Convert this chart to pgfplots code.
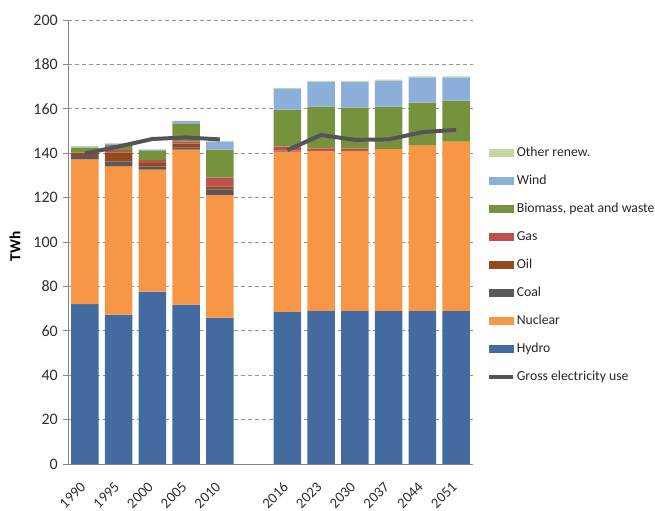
\documentclass[border=0pt]{standalone}
\usepackage{fontspec}
\setmainfont{Carlito}
\usepackage{pgfplots}
\usepackage{pgfplotstable}
\pgfplotsset{compat=1.18}

\definecolor{hydro}{RGB}{68,107,159}
\definecolor{nuclear}{RGB}{247,150,70}
\definecolor{coal}{RGB}{89,89,89}
\definecolor{oil}{RGB}{148,73,33}
\definecolor{gas}{RGB}{192,80,77}
\definecolor{biomass}{RGB}{118,146,60}
\definecolor{wind}{RGB}{140,175,218}
\definecolor{otherren}{RGB}{195,214,155}
\definecolor{useline}{RGB}{84,84,86}
\definecolor{axisgray}{RGB}{134,134,134}
\definecolor{gridgray}{RGB}{150,150,150}

% Electricity supply by source (TWh); x = slot on the category axis
\pgfplotstableread{
x  hydro nuclear coal oil gas biomass wind other
0  72.0  65.2    1.5  1.3 0.4 2.1     0.4  0.3
1  67.3  66.9    2.1  4.1 1.0 2.3     0.6  0.2
2  77.6  55.0    1.4  1.6 1.3 4.2     0.5  0.2
3  71.8  69.8    0.9  1.8 1.0 7.9     1.2  0.2
4  65.9  55.3    2.5  1.3 4.0 12.6    3.6  0.4
6  68.5  72.2    0.0  0.5 1.8 16.6    9.3  0.5
7  69.0  72.1    0.0  0.0 1.1 18.8    11.2 0.4
8  69.0  72.1    0.0  0.0 1.0 18.4    11.7 0.4
9  69.0  72.9    0.0  0.0 0.0 19.1    11.7 0.4
10 69.0  74.8    0.0  0.0 0.0 19.0    11.4 0.4
11 69.0  76.2    0.0  0.0 0.0 18.5    10.5 0.4
}\supply

% Gross electricity use (TWh)
\pgfplotstableread{
x  use
0  139.9
1  143.0
2  146.4
3  147.1
4  146.2
5  nan
6  141.4
7  148.2
8  146.0
9  146.2
10 149.5
11 150.5
}\usage

\begin{document}
\begin{tikzpicture}
\path[use as bounding box] (-51pt,-34.5pt) rectangle (440.25pt,348pt);
\begin{axis}[
  scale only axis,
  width=303.75pt, height=333pt,
  ybar stacked,
  reverse stacked plots=false,
  bar width=0.81,
  xmin=-0.5, xmax=11.5,
  ymin=0, ymax=200,
  ytick={0,20,...,200},
  xtick={0,1,2,3,4,6,7,8,9,10,11},
  xticklabels={1990,1995,2000,2005,2010,2016,2023,2030,2037,2044,2051},
  xtick style={draw=none},
  extra x ticks={-0.5,0.5,...,11.5},
  extra x tick labels={},
  extra x tick style={major tick length=4pt, tick style={draw=axisgray, line width=0.6pt}},
  tick align=outside,
  major tick length=4pt,
  ytick style={draw=axisgray, line width=0.6pt},
  axis lines*=left,
  axis line style={draw=axisgray, line width=0.6pt},
  ymajorgrids,
  grid style={gridgray, dash pattern=on 3pt off 2.2pt, line width=0.6pt},
  /pgf/number format/assume math mode=true,
  tick label style={text=black!82},
  yticklabel style={inner sep=3.5pt, font=\fontsize{12}{14}\selectfont},
  xticklabel style={font=\fontsize{11}{13}\selectfont, xshift=-4pt, yshift=-8pt, rotate=45, anchor=north east, inner sep=0.5pt},
  ylabel={\textbf{TWh}},
  ylabel style={at={(axis description cs:-0.131,0.49)}, anchor=center, font=\fontsize{11.5}{13}\selectfont},
  unbounded coords=jump,
  legend cell align=left,
  legend style={at={(axis description cs:1.035,0.448)}, anchor=west,
    draw=none, fill=none, inner sep=0pt,
    font=\fontsize{10.3}{12}\selectfont, text=black!85,
    row sep=10pt,
    nodes={inner sep=1pt, text height=7pt, text depth=2pt}},
]
% legend entries in display order
\addlegendimage{legend image code/.code={\fill[otherren] (0pt,-2.6pt) rectangle (18pt,2.6pt);}}
\addlegendentry{Other renew.}
\addlegendimage{legend image code/.code={\fill[wind] (0pt,-2.6pt) rectangle (18pt,2.6pt);}}
\addlegendentry{Wind}
\addlegendimage{legend image code/.code={\fill[biomass] (0pt,-2.6pt) rectangle (18pt,2.6pt);}}
\addlegendentry{Biomass, peat and waste}
\addlegendimage{legend image code/.code={\fill[gas] (0pt,-2.6pt) rectangle (18pt,2.6pt);}}
\addlegendentry{Gas}
\addlegendimage{legend image code/.code={\fill[oil] (0pt,-2.6pt) rectangle (18pt,2.6pt);}}
\addlegendentry{Oil}
\addlegendimage{legend image code/.code={\fill[coal] (0pt,-2.6pt) rectangle (18pt,2.6pt);}}
\addlegendentry{Coal}
\addlegendimage{legend image code/.code={\fill[nuclear] (0pt,-2.6pt) rectangle (18pt,2.6pt);}}
\addlegendentry{Nuclear}
\addlegendimage{legend image code/.code={\fill[hydro] (0pt,-2.6pt) rectangle (18pt,2.6pt);}}
\addlegendentry{Hydro}
\addlegendimage{legend image code/.code={\draw[useline, line width=3pt] (0pt,0pt) -- (18pt,0pt);}}
\addlegendentry{Gross electricity use}

% stacked supply bars
\addplot[fill=hydro, draw=none] table[x=x, y=hydro] {\supply};
\addplot[fill=nuclear, draw=none] table[x=x, y=nuclear] {\supply};
\addplot[fill=coal, draw=none] table[x=x, y=coal] {\supply};
\addplot[fill=oil, draw=none] table[x=x, y=oil] {\supply};
\addplot[fill=gas, draw=none] table[x=x, y=gas] {\supply};
\addplot[fill=biomass, draw=none] table[x=x, y=biomass] {\supply};
\addplot[fill=wind, draw=none] table[x=x, y=wind] {\supply};
\addplot[fill=otherren, draw=none] table[x=x, y=other] {\supply};

% gross use line, drawn over the bars
\addplot[sharp plot, stack plots=false, useline, line width=3pt, no markers] table[x=x, y=use] {\usage};
\end{axis}
\end{tikzpicture}
\end{document}
